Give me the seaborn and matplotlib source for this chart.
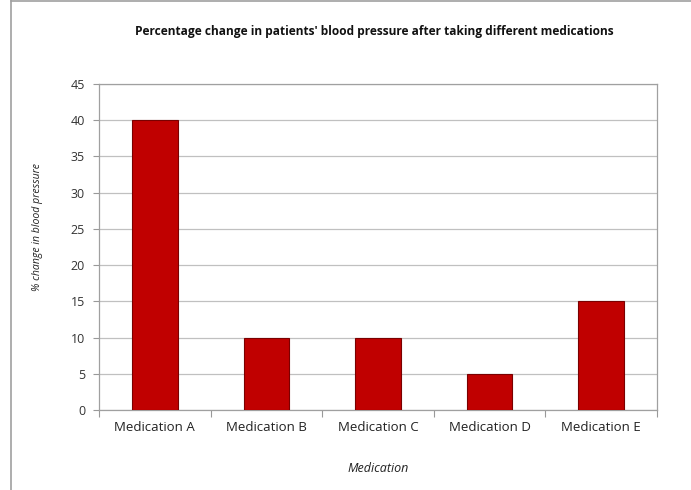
import matplotlib
matplotlib.use("Agg")
import matplotlib.pyplot as plt
import seaborn as sns
import pandas as pd
from matplotlib.lines import Line2D

categories = ["Medication A", "Medication B", "Medication C", "Medication D", "Medication E"]
values = [40, 10, 10, 5, 15]
yticks = [0, 5, 10, 15, 20, 25, 30, 35, 40, 45]

sns.set_theme(style="white")
plt.rcParams['font.family'] = ['Open Sans', 'DejaVu Sans']

df = pd.DataFrame({"Medication": categories, "change": values})

fig = plt.figure(figsize=(6.91, 4.90), dpi=100)
ax = fig.add_axes([99/691, 1-410/490, (657-99)/691, (410-84)/490])

sns.barplot(data=df, x="Medication", y="change", ax=ax, color="#C00000",
            width=0.41, saturation=1, edgecolor="#7a0000", linewidth=0.8, zorder=3)

ax.set_ylim(0, 45)
ax.set_yticks(yticks)
ax.set_yticklabels([str(v) for v in yticks], fontsize=9, color="#333333")
ax.set_xlim(-0.5, len(categories) - 0.5)
ax.set_xticks(range(len(categories)))
ax.set_xticklabels(categories, fontsize=9.5, color="#222222")
ax.tick_params(axis="x", length=0, pad=8)
ax.tick_params(axis="y", length=4, width=0.8, color="#999999", direction="out", left=True, pad=6)
ax.set_xticks([i + 0.5 for i in range(-1, len(categories))], minor=True)
ax.tick_params(axis="x", which="minor", length=5, width=0.8, color="#999999", direction="out", bottom=True)

ax.grid(axis="y", color="#c0c0c0", linewidth=0.9, zorder=0)
ax.set_axisbelow(True)
for s in ax.spines.values():
    s.set_visible(True)
    s.set_color("#a0a0a0")
    s.set_linewidth(0.9)

ax.set_xlabel("Medication", fontsize=9, style="italic", color="#222222", labelpad=20)
ax.set_ylabel("% change in blood pressure", fontsize=7.6, style="italic", color="#222222")
ax.yaxis.set_label_coords((43 - 99) / 558, (410 - 227) / 326)

fig.text(0.542, 1-32/490, "Percentage change in patients' blood pressure after taking different medications",
         ha="center", va="center", fontsize=8.6, fontweight="bold", color="#111111")

fig.add_artist(Line2D([11/691, 11/691], [0, 1], transform=fig.transFigure, color="#a0a0a0", linewidth=1.2))
fig.add_artist(Line2D([11/691, 1], [1-1.5/490, 1-1.5/490], transform=fig.transFigure, color="#a0a0a0", linewidth=1.2))

fig.savefig("out.png", dpi=100)
